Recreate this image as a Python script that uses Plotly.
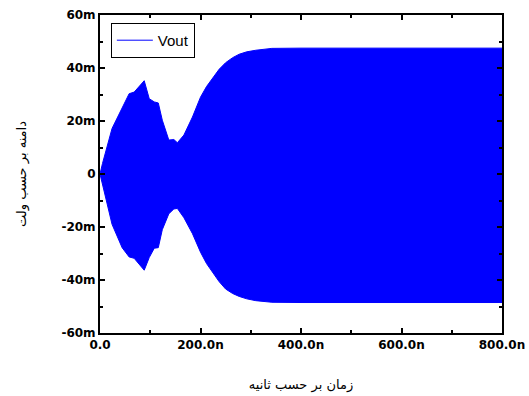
import plotly.graph_objects as go

# Envelope of Vout (time in ns, amplitude in mV)
time_ns = [0, 5, 24, 44, 58, 68, 88, 98, 108, 116, 124, 137, 147, 154, 167, 184,
           200, 212, 223, 237, 250, 264, 277, 292, 310, 342, 400, 500, 600, 700, 800]
upper_mv = [0, 4, 17.2, 25.3, 30.3, 30.9, 35.2, 28.4, 27.2, 26.8, 20.3, 12.8, 13.0, 11.8, 14.7, 21.5,
            29.0, 33.0, 35.8, 39.5, 42.0, 43.9, 45.2, 46.1, 46.7, 47.4, 47.5, 47.5, 47.5, 47.5, 47.5]
lower_mv = [0, -4, -19.0, -27.8, -31.3, -31.8, -36.3, -31.5, -28.0, -27.8, -21.0, -15.0, -13.2, -13.0, -16.5, -22.5,
            -29.5, -33.8, -37.0, -40.6, -43.4, -45.1, -46.2, -47.1, -47.8, -48.4, -48.5, -48.5, -48.5, -48.5, -48.5]

series_name = "Vout"
x_tickvals = [0, 200, 400, 600, 800]
x_ticktext = ["0.0", "200.0n", "400.0n", "600.0n", "800.0n"]
y_tickvals = [-60, -40, -20, 0, 20, 40, 60]
y_ticktext = ["-60m", "-40m", "-20m", "0", "20m", "40m", "60m"]
x_title = "زمان بر حسب ثانیه"
y_title = "دامنه بر حسب ولت"

blue = "#0000FF"

fig = go.Figure()
fig.add_trace(go.Scatter(x=time_ns, y=upper_mv, mode="lines", name=series_name,
                         line=dict(color=blue, width=1), showlegend=True))
fig.add_trace(go.Scatter(x=time_ns, y=lower_mv, mode="lines", name=series_name,
                         line=dict(color=blue, width=1), fill="tonexty",
                         fillcolor=blue, showlegend=False))

tickfont = dict(family="DejaVu Sans", size=12, color="black", weight="bold")
axis_common = dict(showline=True, linecolor="black", linewidth=2, mirror="ticks",
                   ticks="inside", ticklen=5, tickwidth=1.5, tickcolor="black",
                   showgrid=False, zeroline=False, tickfont=tickfont)
title_font = dict(family="DejaVu Sans", size=13, color="black")

fig.update_xaxes(range=[0, 800], tickmode="array", tickvals=x_tickvals, ticktext=x_ticktext,
                 minor=dict(ticks="inside", tickmode="linear", tick0=0, dtick=100,
                            ticklen=3, tickwidth=1.5, tickcolor="black"),
                 title=dict(text=x_title, font=title_font, standoff=28),
                 **axis_common)
fig.update_yaxes(range=[-60, 60], tickmode="array", tickvals=y_tickvals, ticktext=y_ticktext,
                 minor=dict(ticks="inside", tickmode="linear", tick0=0, dtick=10,
                            ticklen=3, tickwidth=1.5, tickcolor="black"),
                 title=dict(text=y_title, font=title_font, standoff=32),
                 **axis_common)

fig.update_layout(
    width=529, height=396,
    margin=dict(l=100, r=27, t=15, b=63, autoexpand=False),
    plot_bgcolor="white", paper_bgcolor="white",
    legend=dict(x=0.027, y=0.975, xanchor="left", yanchor="top",
                bgcolor="white", bordercolor="black", borderwidth=1,
                font=dict(family="Liberation Sans", size=15, color="black"),
                tracegroupgap=0, itemwidth=36),
)

fig.write_html("out.html")
